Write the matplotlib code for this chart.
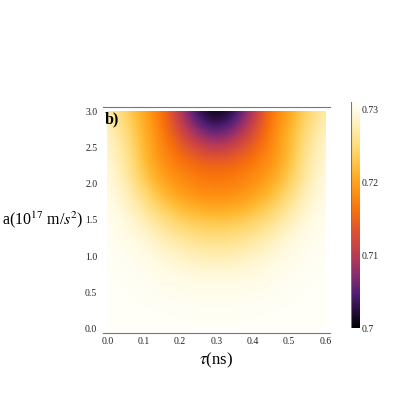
import numpy as np
import matplotlib
matplotlib.use("Agg")
import matplotlib.pyplot as plt
from matplotlib.colors import LinearSegmentedColormap
from matplotlib.patches import Rectangle

plt.rcParams["font.family"] = ["Liberation Serif", "DejaVu Serif"]
plt.rcParams["mathtext.fontset"] = "stix"

# grid: tau (ns) across, acceleration (1e17 m/s^2) up
tau_ns = [0.0, 0.05, 0.1, 0.15, 0.2, 0.25, 0.3, 0.35, 0.4, 0.45, 0.5, 0.55, 0.6]
accel = [0.0, 0.25, 0.5, 0.75, 1.0, 1.25, 1.5, 1.75, 2.0, 2.25, 2.5, 2.75, 3.0]
values = [
    [0.7310, 0.7310, 0.7310, 0.7310, 0.7310, 0.7310, 0.7310, 0.7310, 0.7310, 0.7310, 0.7310, 0.7310, 0.7310],
    [0.7310, 0.7310, 0.7309, 0.7309, 0.7308, 0.7308, 0.7307, 0.7308, 0.7308, 0.7309, 0.7309, 0.7310, 0.7310],
    [0.7310, 0.7309, 0.7308, 0.7306, 0.7304, 0.7303, 0.7303, 0.7303, 0.7304, 0.7306, 0.7308, 0.7309, 0.7310],
    [0.7309, 0.7308, 0.7305, 0.7301, 0.7298, 0.7295, 0.7295, 0.7295, 0.7298, 0.7301, 0.7305, 0.7308, 0.7309],
    [0.7308, 0.7305, 0.7301, 0.7293, 0.7285, 0.7279, 0.7277, 0.7279, 0.7285, 0.7293, 0.7301, 0.7305, 0.7308],
    [0.7307, 0.7302, 0.7293, 0.7279, 0.7267, 0.7257, 0.7254, 0.7257, 0.7267, 0.7279, 0.7293, 0.7302, 0.7307],
    [0.7305, 0.7296, 0.7279, 0.7257, 0.7239, 0.7229, 0.7226, 0.7229, 0.7239, 0.7257, 0.7279, 0.7296, 0.7305],
    [0.7302, 0.7288, 0.7260, 0.7229, 0.7208, 0.7195, 0.7192, 0.7195, 0.7208, 0.7229, 0.7260, 0.7288, 0.7302],
    [0.7299, 0.7279, 0.7239, 0.7205, 0.7186, 0.7174, 0.7171, 0.7174, 0.7186, 0.7205, 0.7239, 0.7279, 0.7299],
    [0.7295, 0.7270, 0.7223, 0.7189, 0.7171, 0.7158, 0.7152, 0.7158, 0.7171, 0.7189, 0.7223, 0.7270, 0.7295],
    [0.7291, 0.7264, 0.7217, 0.7180, 0.7149, 0.7118, 0.7102, 0.7118, 0.7149, 0.7180, 0.7217, 0.7264, 0.7291],
    [0.7285, 0.7254, 0.7211, 0.7174, 0.7118, 0.7068, 0.7040, 0.7068, 0.7118, 0.7174, 0.7211, 0.7254, 0.7285],
    [0.7273, 0.7242, 0.7202, 0.7167, 0.7095, 0.7025, 0.7000, 0.7025, 0.7095, 0.7167, 0.7202, 0.7242, 0.7273],
]
vmin, vmax = 0.7, 0.731
cbar_ticks = [0.70, 0.71, 0.72, 0.73]
cbar_labels = ["0.7", "0.71", "0.72", "0.73"]

# sunset-like map: black -> purple -> red -> orange -> yellow -> white
sunset = LinearSegmentedColormap.from_list("sunset", [
    (0.00, (0 / 255, 0 / 255, 0 / 255)),
    (0.06, (30 / 255, 10 / 255, 50 / 255)),
    (0.15, (80 / 255, 30 / 255, 115 / 255)),
    (0.24, (140 / 255, 45 / 255, 110 / 255)),
    (0.33, (190 / 255, 60 / 255, 80 / 255)),
    (0.42, (220 / 255, 80 / 255, 50 / 255)),
    (0.52, (248 / 255, 112 / 255, 12 / 255)),
    (0.615, (255 / 255, 150 / 255, 20 / 255)),
    (0.70, (255 / 255, 185 / 255, 50 / 255)),
    (0.79, (255 / 255, 215 / 255, 110 / 255)),
    (0.88, (255 / 255, 235 / 255, 170 / 255)),
    (0.96, (255 / 255, 250 / 255, 225 / 255)),
    (1.00, (255 / 255, 255 / 255, 248 / 255)),
])

fig = plt.figure(figsize=(4.15, 4.15), dpi=100)
ax = fig.add_axes([0.248, 0.1976, 0.547, 0.5446])
cax = fig.add_axes([0.846, 0.2096, 0.0217, 0.5446])

data = np.array(values)
dx = tau_ns[1] - tau_ns[0]
dy = accel[1] - accel[0]
img = ax.imshow(data, origin="lower", cmap=sunset, vmin=vmin, vmax=vmax,
                interpolation="bicubic", aspect="auto",
                extent=[tau_ns[0] - dx / 2, tau_ns[-1] + dx / 2,
                        accel[0] - dy / 2, accel[-1] + dy / 2])
img.set_clip_path(Rectangle((tau_ns[0], accel[0]), tau_ns[-1] - tau_ns[0],
                            accel[-1] - accel[0], transform=ax.transData))

padx = 0.02 * (tau_ns[-1] - tau_ns[0])
pady = 0.02 * (accel[-1] - accel[0])
ax.set_xlim(tau_ns[0] - padx, tau_ns[-1] + padx)
ax.set_ylim(accel[0] - pady, accel[-1] + pady)

ax.set_xticks(tau_ns[::2])
ax.set_xticklabels([f"{t:.1f}" for t in tau_ns[::2]])
ax.set_yticks(accel[::2])
ax.set_yticklabels([f"{a:.1f}" for a in accel[::2]])
ax.tick_params(axis="x", length=0, labelsize=7, colors="#222222", pad=3)
ax.tick_params(axis="y", length=0, labelsize=7, colors="#222222", pad=4)
for side in ["left", "right"]:
    ax.spines[side].set_visible(False)
for side in ["top", "bottom"]:
    ax.spines[side].set_color("#777777")
    ax.spines[side].set_linewidth(0.8)

ax.set_xlabel(r"$\tau$(ns)", fontsize=12, labelpad=3)
ax.set_ylabel(r"a(10$^{17}$ m/$s^2$)", fontsize=11.5, rotation=0,
              ha="right", va="center", labelpad=1)
ax.text(0.01, 0.98, "b)", transform=ax.transAxes, fontsize=11.5,
        fontweight="bold", ha="left", va="top")

cb = fig.colorbar(img, cax=cax)
cb.outline.set_visible(False)
cb.set_ticks(cbar_ticks)
cb.set_ticklabels(cbar_labels)
cax.tick_params(length=0, labelsize=7, colors="#222222", pad=1)
cax.axvline(0, color="#777777", linewidth=0.8)

fig.savefig("out.png", dpi=100)
